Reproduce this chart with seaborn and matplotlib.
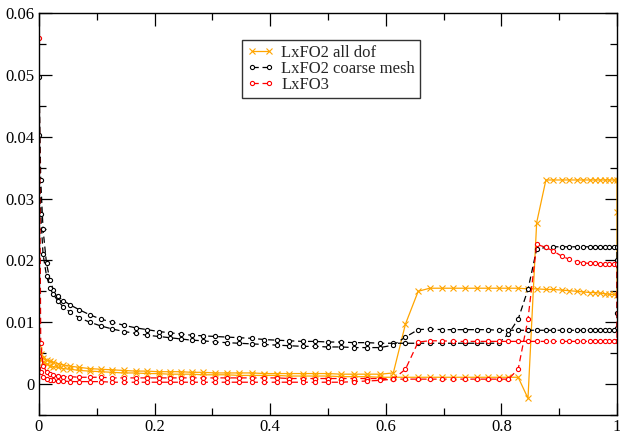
import matplotlib
matplotlib.use("Agg")
import matplotlib.pyplot as plt
from matplotlib.ticker import MultipleLocator, FuncFormatter
import pandas as pd
import seaborn as sns

# Shared abscissa for every branch
X = [0.000, 0.003, 0.007, 0.013, 0.019, 0.025, 0.033, 0.042, 0.054, 0.070, 0.088, 0.107,
     0.127, 0.147, 0.167, 0.187, 0.207, 0.226, 0.245, 0.264, 0.284, 0.304, 0.325, 0.346,
     0.368, 0.390, 0.411, 0.433, 0.456, 0.478, 0.500, 0.523, 0.545, 0.568, 0.590,
     0.613, 0.634, 0.656, 0.676, 0.697, 0.717, 0.737, 0.757, 0.777, 0.795,
     0.812, 0.829, 0.846, 0.861, 0.877, 0.890, 0.904, 0.917, 0.930, 0.942, 0.953,
     0.962, 0.970, 0.979, 0.987, 0.994, 1.000]

# LxFO2 all dof: outgoing and returning branches, plus points on x = 1
all_dof_out = [0.0063, 0.0048, 0.0042, 0.0039, 0.0037, 0.0035, 0.0033, 0.0031, 0.0029, 0.0027, 0.0025, 0.0024,
               0.0023, 0.0022, 0.0021, 0.0021, 0.0020, 0.0020, 0.0020, 0.0019, 0.0019, 0.0018, 0.0018, 0.0018,
               0.0018, 0.0017, 0.0017, 0.0017, 0.0017, 0.0017, 0.0017, 0.0016, 0.0016, 0.0016, 0.0016,
               0.0018, 0.0097, 0.0150, 0.0155, 0.0155, 0.0155, 0.0155, 0.0155, 0.0155, 0.0155,
               0.0155, 0.0155, 0.0154, 0.0154, 0.0153, 0.0153, 0.0152, 0.0151, 0.0150, 0.0149, 0.0148,
               0.0148, 0.0147, 0.0146, 0.0145, 0.0145, 0.0144]
all_dof_back = [0.0052, 0.0040, 0.0035, 0.0032, 0.0030, 0.0028, 0.0027, 0.0025, 0.0024, 0.0022, 0.0021, 0.0020,
                0.0019, 0.0018, 0.0018, 0.0017, 0.0017, 0.0016, 0.0016, 0.0016, 0.0015, 0.0015, 0.0015, 0.0014,
                0.0014, 0.0014, 0.0014, 0.0013, 0.0013, 0.0013, 0.0013, 0.0012, 0.0012, 0.0012, 0.0011,
                0.0011, 0.0011, 0.0011, 0.0011, 0.0011, 0.0011, 0.0011, 0.0011, 0.0011, 0.0011,
                0.0011, 0.0011, -0.0023, 0.0261, 0.0330, 0.0330, 0.0330, 0.0330, 0.0330, 0.0330, 0.0330,
                0.0330, 0.0330, 0.0330, 0.0330, 0.0330, 0.0330]
all_dof_edge = [0.0278]

# LxFO2 coarse mesh
coarse_out = [0.0497, 0.0330, 0.0250, 0.0195, 0.0168, 0.0152, 0.0142, 0.0135, 0.0128, 0.0120, 0.0112, 0.0105,
              0.0100, 0.0095, 0.0091, 0.0088, 0.0085, 0.0083, 0.0081, 0.0079, 0.0078, 0.0077, 0.0076, 0.0075,
              0.0074, 0.0072, 0.0071, 0.0070, 0.0069, 0.0069, 0.0068, 0.0068, 0.0067, 0.0067, 0.0066,
              0.0066, 0.0066, 0.0066, 0.0066, 0.0066, 0.0066, 0.0066, 0.0066, 0.0066, 0.0066,
              0.0081, 0.0105, 0.0153, 0.0218, 0.0221, 0.0222, 0.0222, 0.0222, 0.0222, 0.0222, 0.0222,
              0.0222, 0.0222, 0.0222, 0.0222, 0.0222, 0.0222]
coarse_back = [0.0403, 0.0275, 0.0210, 0.0175, 0.0156, 0.0145, 0.0134, 0.0125, 0.0116, 0.0107, 0.0100, 0.0094,
               0.0089, 0.0085, 0.0082, 0.0079, 0.0077, 0.0075, 0.0073, 0.0071, 0.0070, 0.0068, 0.0067, 0.0066,
               0.0065, 0.0064, 0.0063, 0.0062, 0.0061, 0.0061, 0.0060, 0.0060, 0.0059, 0.0059, 0.0059,
               0.0063, 0.0076, 0.0088, 0.0089, 0.0088, 0.0088, 0.0088, 0.0088, 0.0088, 0.0087,
               0.0087, 0.0087, 0.0087, 0.0087, 0.0087, 0.0087, 0.0087, 0.0087, 0.0087, 0.0087, 0.0087,
               0.0087, 0.0087, 0.0087, 0.0087, 0.0087, 0.0090]
coarse_edge = [0.0200, 0.0115]

# LxFO3
fo3_out = [0.0560, 0.0066, 0.0030, 0.0020, 0.0016, 0.0014, 0.0013, 0.0012, 0.0012, 0.0011, 0.0011, 0.0011,
           0.0010, 0.0010, 0.0010, 0.0010, 0.0010, 0.0010, 0.0010, 0.0010, 0.0010, 0.0010, 0.0010, 0.0010,
           0.0010, 0.0010, 0.0010, 0.0009, 0.0009, 0.0009, 0.0009, 0.0009, 0.0009, 0.0009, 0.0009,
           0.0008, 0.0008, 0.0008, 0.0008, 0.0008, 0.0008, 0.0008, 0.0008, 0.0008, 0.0008,
           0.0008, 0.0024, 0.0105, 0.0226, 0.0221, 0.0215, 0.0207, 0.0202, 0.0198, 0.0196, 0.0195,
           0.0195, 0.0194, 0.0194, 0.0194, 0.0194, 0.0194]
fo3_back = [0.0045, 0.0019, 0.0012, 0.0008, 0.0007, 0.0006, 0.0005, 0.0005, 0.0004, 0.0004, 0.0004, 0.0004,
            0.0003, 0.0003, 0.0003, 0.0003, 0.0003, 0.0003, 0.0003, 0.0003, 0.0003, 0.0003, 0.0003, 0.0003,
            0.0003, 0.0003, 0.0003, 0.0003, 0.0003, 0.0003, 0.0003, 0.0003, 0.0004, 0.0005, 0.0006,
            0.0008, 0.0024, 0.0068, 0.0070, 0.0070, 0.0069, 0.0069, 0.0069, 0.0069, 0.0069,
            0.0069, 0.0069, 0.0069, 0.0069, 0.0069, 0.0069, 0.0069, 0.0069, 0.0069, 0.0069, 0.0069,
            0.0069, 0.0069, 0.0069, 0.0069, 0.0069, 0.0069]
fo3_edge = []

labels = ["LxFO2 all dof", "LxFO2 coarse mesh", "LxFO3"]
colors = ["#ffa500", "#000000", "#ff0000"]

X_TICKS = [0, 0.2, 0.4, 0.6, 0.8, 1]
Y_TICKS = [0, 0.01, 0.02, 0.03, 0.04, 0.05, 0.06]


def loop_frame(out, edge, back):
    """One closed path: out along x, down the x = 1 edge, then back to x = 0."""
    xs = X + [1.0] * len(edge) + X[::-1]
    ys = out + edge + back[::-1]
    return pd.DataFrame({"x": xs, "y": ys})


sns.set_style("ticks")
plt.rcParams["font.family"] = ["Liberation Serif", "DejaVu Serif"]
plt.rcParams["font.size"] = 12

fig = plt.figure(figsize=(6.2, 4.34), dpi=100)
ax = fig.add_axes([39 / 620, 1 - 415 / 434, 578 / 620, 402 / 434])

series = [
    (loop_frame(all_dof_out, all_dof_edge, all_dof_back), "-", "x", 4.5, colors[0]),
    (loop_frame(coarse_out, coarse_edge, coarse_back), (0, (5, 3)), "o", 3.0, colors[1]),
    (loop_frame(fo3_out, fo3_edge, fo3_back), (0, (5, 3)), "o", 3.0, colors[2]),
]

for (df, ls, mk, ms, col), lab in zip(series, labels):
    sns.lineplot(data=df, x="x", y="y", sort=False, estimator=None, ax=ax,
                 color=col, linestyle=ls, linewidth=0.9, marker=mk, markersize=ms,
                 markerfacecolor="white" if mk == "o" else col,
                 markeredgecolor=col, markeredgewidth=0.8, label=lab)

ax.set_xlim(0, 1)
ax.set_ylim(-0.005, 0.06)
ax.set_xlabel("")
ax.set_ylabel("")
ax.set_xticks(X_TICKS)
ax.set_yticks(Y_TICKS)
ax.xaxis.set_minor_locator(MultipleLocator(0.1))
ax.yaxis.set_minor_locator(MultipleLocator(0.005))
fmt = FuncFormatter(lambda v, p: "%g" % round(v, 4))
ax.xaxis.set_major_formatter(fmt)
ax.yaxis.set_major_formatter(fmt)
ax.tick_params(which="both", direction="in", top=True, right=True, width=0.9, colors="black",
               labelsize=12)
ax.tick_params(which="major", length=9)
ax.tick_params(which="minor", length=5)
ax.tick_params(axis="y", pad=3)
ax.tick_params(axis="x", pad=3)
for sp in ax.spines.values():
    sp.set_visible(True)
    sp.set_linewidth(1.0)
    sp.set_color("black")

handles, hl = ax.get_legend_handles_labels()
leg = ax.legend(handles, hl, loc="upper left", bbox_to_anchor=(0.351, 0.933), numpoints=2,
                handlelength=1.6, fontsize=12, frameon=True, fancybox=False, shadow=False,
                borderpad=0.3, labelspacing=0.0, handletextpad=0.45, borderaxespad=0)
leg.get_frame().set_edgecolor("black")
leg.get_frame().set_linewidth(1.0)

fig.savefig("out.png", dpi=100)
